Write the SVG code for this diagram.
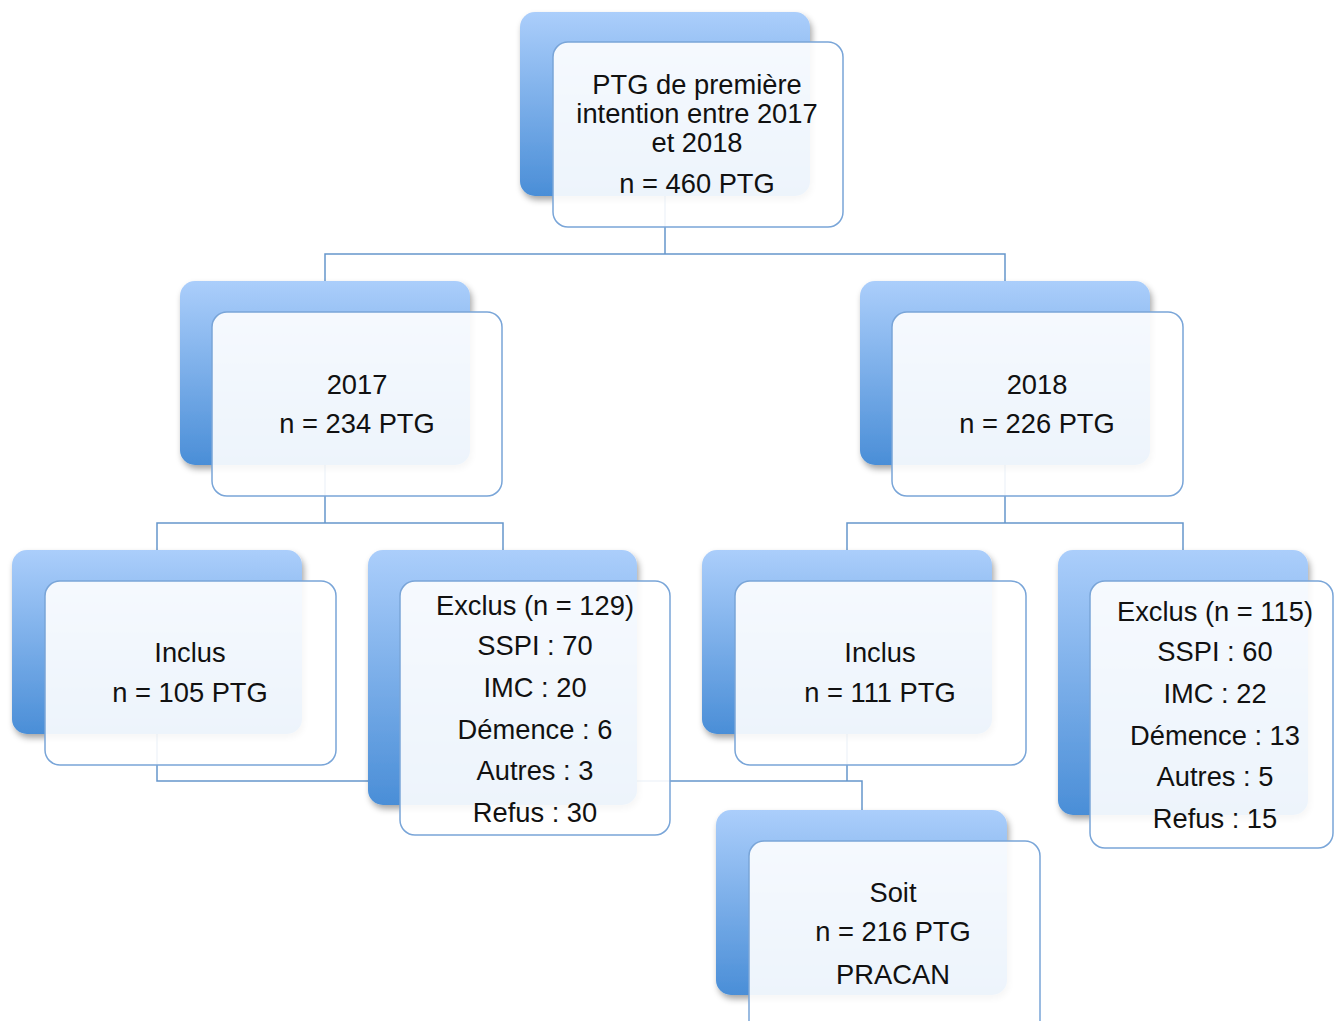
<svg xmlns="http://www.w3.org/2000/svg" width="1334" height="1021" viewBox="0 0 1334 1021">
<defs>
<linearGradient id="bg" x1="0" y1="0" x2="0" y2="1">
<stop offset="0" stop-color="#abcefb"/>
<stop offset="1" stop-color="#4a8ed7"/>
</linearGradient>
<filter id="sh" x="-10%" y="-10%" width="125%" height="125%">
<feDropShadow dx="2" dy="4" stdDeviation="3" flood-color="#000" flood-opacity="0.35"/>
</filter>
</defs>
<style>
.back{fill:url(#bg);filter:url(#sh);}
.front{fill:#ffffff;fill-opacity:0.9;stroke:#79a5d8;stroke-width:1.5;}
.con{fill:none;stroke:#6596cc;stroke-width:1.5;}
text{font-family:"Liberation Sans",Arial,sans-serif;font-size:27.3px;fill:#111;text-anchor:middle;}
</style>
<rect width="1334" height="1021" fill="#ffffff"/>
<g id="connectors">
<path class="con" d="M665,195 V254 M325,281 V254 H1005 V281"/>
<path class="con" d="M325,465 V523 M157,550 V523 H503 V550"/>
<path class="con" d="M1005,465 V523 M847,550 V523 H1183 V550"/>
<path class="con" d="M157,734 V781 H862 V810 M847,734 V781"/>
</g>
<g id="node-top">
<rect class="back" x="520" y="12" width="290" height="184" rx="15"/>
<rect class="front" x="553" y="42" width="290" height="185" rx="15"/>
<text x="697" y="94">PTG de première</text>
<text x="697" y="123">intention entre 2017</text>
<text x="697" y="152">et 2018</text>
<text x="697" y="193">n = 460 PTG</text>
</g>
<g id="node-2017">
<rect class="back" x="180" y="281" width="290" height="184" rx="15"/>
<rect class="front" x="212" y="312" width="290" height="184" rx="15"/>
<text x="357" y="394">2017</text>
<text x="357" y="433">n = 234 PTG</text>
</g>
<g id="node-2018">
<rect class="back" x="860" y="281" width="290" height="184" rx="15"/>
<rect class="front" x="892" y="312" width="291" height="184" rx="15"/>
<text x="1037" y="394">2018</text>
<text x="1037" y="433">n = 226 PTG</text>
</g>
<g id="node-inclus-2017">
<rect class="back" x="12" y="550" width="290" height="184" rx="15"/>
<rect class="front" x="45" y="581" width="291" height="184" rx="15"/>
<text x="190" y="662">Inclus</text>
<text x="190" y="702">n = 105 PTG</text>
</g>
<g id="node-exclus-2017">
<rect class="back" x="368" y="550" width="269" height="255" rx="15"/>
<rect class="front" x="400" y="581" width="270" height="254" rx="15"/>
<text x="535" y="615">Exclus (n = 129)</text>
<text x="535" y="655">SSPI : 70</text>
<text x="535" y="697">IMC : 20</text>
<text x="535" y="739">Démence : 6</text>
<text x="535" y="780">Autres : 3</text>
<text x="535" y="822">Refus : 30</text>
</g>
<g id="node-inclus-2018">
<rect class="back" x="702" y="550" width="290" height="184" rx="15"/>
<rect class="front" x="735" y="581" width="291" height="184" rx="15"/>
<text x="880" y="662">Inclus</text>
<text x="880" y="702">n = 111 PTG</text>
</g>
<g id="node-exclus-2018">
<rect class="back" x="1058" y="550" width="250" height="265" rx="15"/>
<rect class="front" x="1090" y="581" width="243" height="267" rx="15"/>
<text x="1215" y="621">Exclus (n = 115)</text>
<text x="1215" y="661">SSPI : 60</text>
<text x="1215" y="703">IMC : 22</text>
<text x="1215" y="745">Démence : 13</text>
<text x="1215" y="786">Autres : 5</text>
<text x="1215" y="828">Refus : 15</text>
</g>
<g id="node-soit">
<rect class="back" x="716" y="810" width="291" height="185" rx="15"/>
<rect class="front" x="749" y="841" width="291" height="195" rx="15"/>
<text x="893" y="902">Soit</text>
<text x="893" y="941">n = 216 PTG</text>
<text x="893" y="984">PRACAN</text>
</g>
</svg>
